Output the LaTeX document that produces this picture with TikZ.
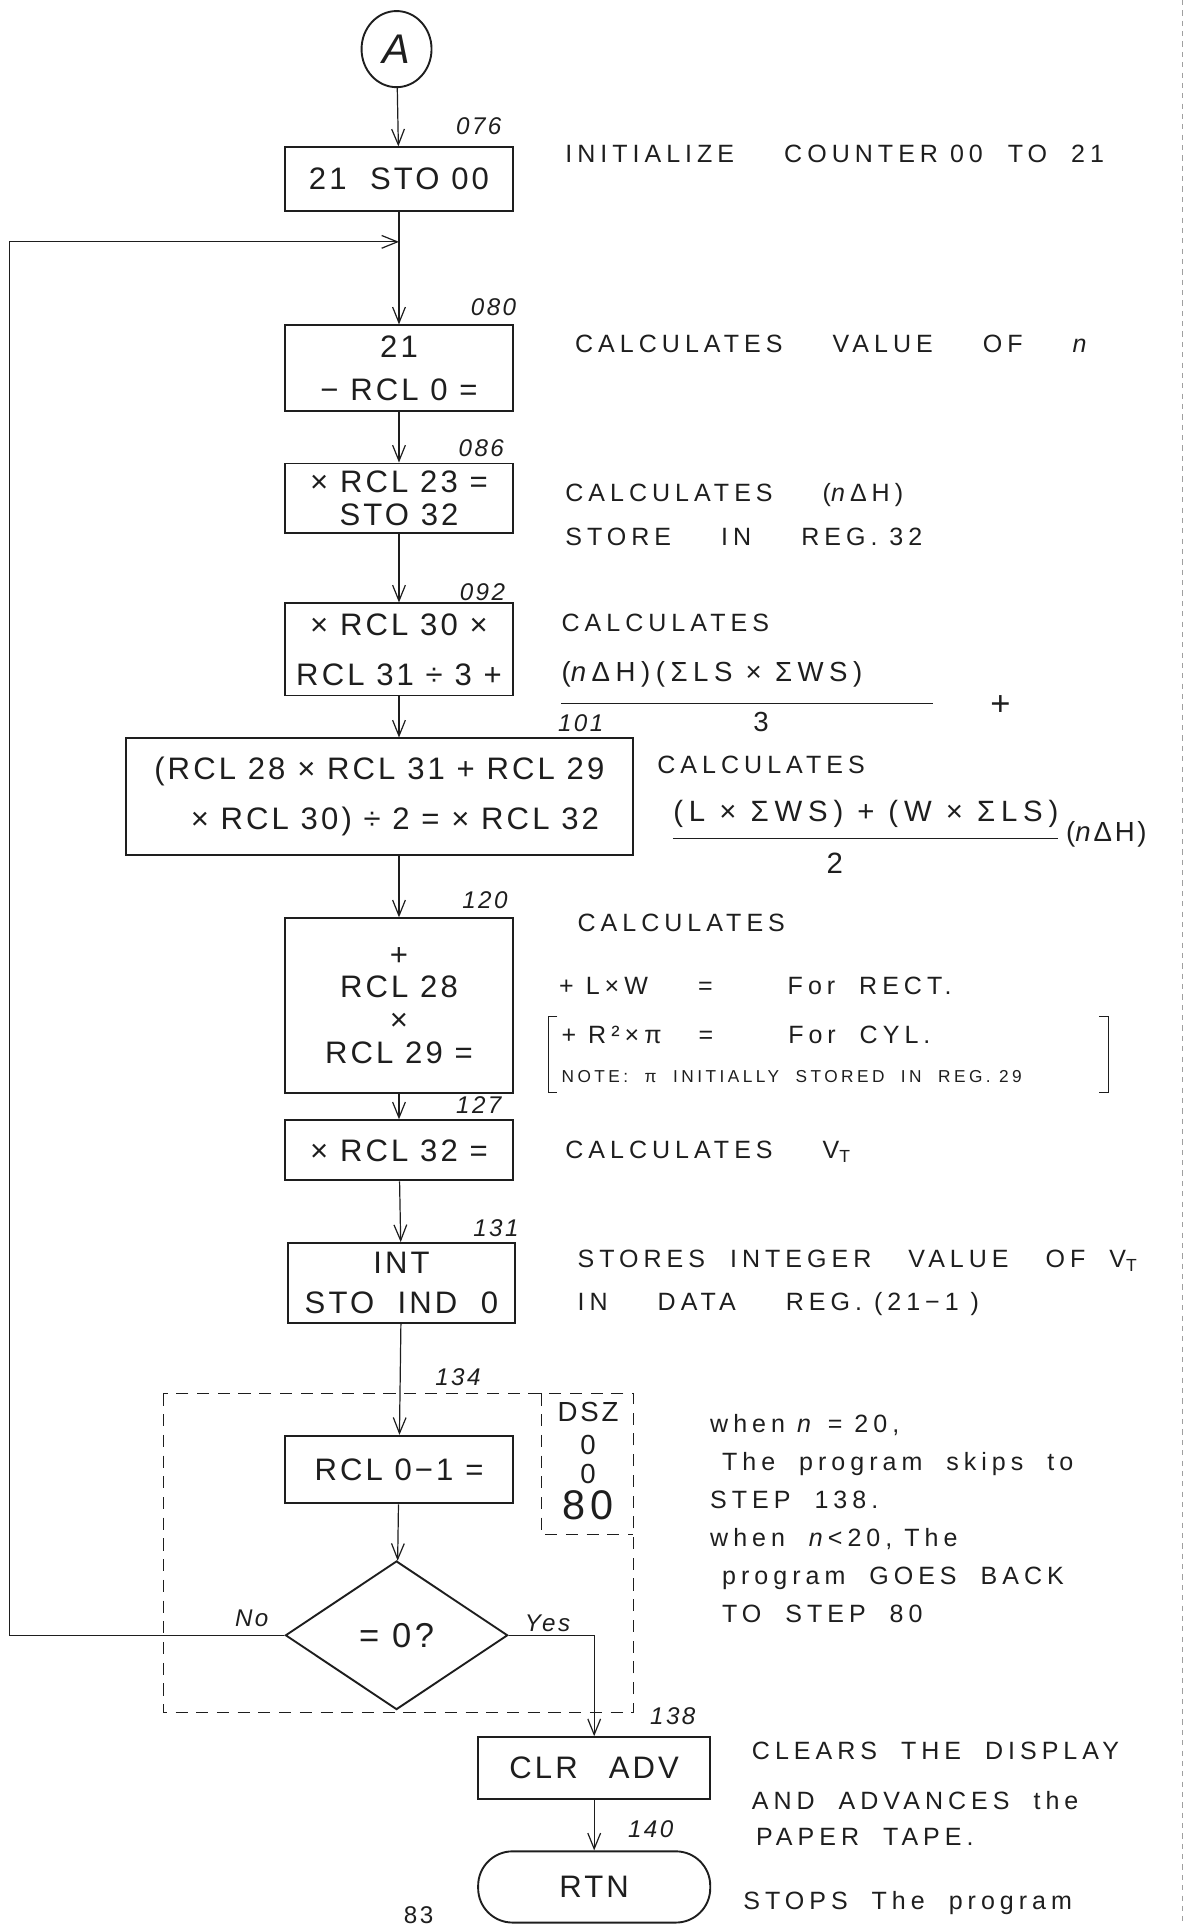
\documentclass[tikz,border=0pt]{standalone}
\usepackage{fontspec}
\usepackage{tikz}
\usetikzlibrary{arrows.meta,shapes.geometric}
\setmainfont{Liberation Sans}
\newfontfamily\handfont[LetterSpace=10]{Liberation Sans}
\newfontfamily\widehand[LetterSpace=20]{Liberation Sans}
\definecolor{PencilInk}{HTML}{1E1E1E}
\definecolor{PageEdge}{HTML}{A0A0A0}

\begin{document}
\begin{tikzpicture}[x=0.025cm,y=-0.025cm,PencilInk,
  >={Straight Barb[length=3.2mm,width=2.6mm]},line width=0.7pt,
  stepbox/.style={draw,line width=1.1pt,inner sep=0pt,align=center,
    minimum width=4.625cm,font=\fontsize{18}{23}\handfont},
  steplabel/.style={inner sep=0pt,font=\fontsize{14}{16}\handfont\itshape},
  remark/.style={anchor=west,inner sep=0pt,font=\fontsize{14.5}{17}\widehand}]
  \useasboundingbox (0,0) rectangle (967,1568);
  \draw[PageEdge,line width=0.4pt,dashed] (963,0) -- (963,1568);

  \node[draw,line width=1.1pt,ellipse,inner sep=0pt,minimum width=1.425cm,
    minimum height=1.55cm,font=\fontsize{24}{24}\handfont\itshape] (conA) at (323,40) {A};
  \node[stepbox,minimum height=1.3cm] (init) at (325,146) {21\ \ STO 00};
  \node[stepbox,minimum height=1.75cm] (count) at (325,300) {21\\[2pt]− RCL 0 =};
  \node[stepbox,minimum height=1.425cm] (ndh) at (325,406) {× RCL 23 =\\[-4pt]STO 32};
  \node[stepbox,minimum height=1.875cm] (sides) at (325,529) {× RCL 30 ×\\[6pt]RCL 31 ÷ 3 +};
  \node[stepbox,minimum width=10.325cm,minimum height=2.375cm] (ends) at (309,649)
    {(RCL 28 × RCL 31 + RCL 29\\[6pt]\quad × RCL 30) ÷ 2 = × RCL 32};
  \node[stepbox,minimum height=3.55cm] (area) at (325,819) {+\\[-4pt]RCL 28\\[-4pt]×\\[-4pt]RCL 29 =};
  \node[stepbox,minimum height=1.225cm] (vol) at (325,937) {× RCL 32 =};
  \node[stepbox,minimum height=1.625cm] (store) at (327,1045) {INT\\STO\ \ IND\ \ 0};
  \node[stepbox,minimum height=1.375cm] (decr) at (325,1197) {RCL 0−1 =};
  \node[draw,line width=1.1pt,diamond,inner sep=0pt,minimum width=4.525cm,
    minimum height=3.025cm,font=\fontsize{20}{20}\handfont] (test) at (323,1332) {= 0?};
  \node[stepbox,minimum width=4.725cm,minimum height=1.25cm] (clr) at (484,1440) {CLR\quad ADV};
  \node[stepbox,minimum width=4.725cm,minimum height=1.45cm,rounded corners=0.7cm] (rtn) at (484,1537) {RTN};

  \node[steplabel] (s076) at (390,103) {076};
  \node[steplabel] (s080) at (402,250) {080};
  \node[steplabel] (s086) at (392,365) {086};
  \node[steplabel] (s092) at (393,482) {092};
  \node[steplabel] (s101) at (473,589) {101};
  \node[steplabel] (s120) at (395,733) {120};
  \node[steplabel] (s127) at (390,900) {127};
  \node[steplabel] (s131) at (404,1000) {131};
  \node[steplabel] (s134) at (373,1122) {134};
  \node[steplabel] (s138) at (548,1398) {138};
  \node[steplabel] (s140) at (530,1490) {140};
  \node[steplabel] (nolab) at (205,1318) {No};
  \node[steplabel] (yeslab) at (446,1322) {Yes};

  \draw[->] (conA) -- (init);
  \draw[->] (init) -- (count);
  \draw[->] (count) -- (ndh);
  \draw[->] (ndh) -- (sides);
  \draw[->] (sides.south) -- (sides.south |- ends.north);
  \draw[->] (area.north |- ends.south) -- (area);
  \draw[->] (area) -- (vol);
  \draw[->] (vol) -- (store);
  \draw[->] (store) -- (decr);
  \draw[->] (decr) -- (test);
  \coordinate (loopcorner) at (8,197);
  \draw[->] (test.west) -| (loopcorner) -- (loopcorner -| init.south);
  \draw[->] (test.east) -| (clr.north);
  \draw[->] (clr) -- (rtn);

  \draw[dashed,line width=0.9pt,dash pattern=on 7pt off 5pt] (133,1135) rectangle (516,1395);
  \draw[dashed,line width=0.9pt,dash pattern=on 7pt off 5pt] (441,1135) |- (516,1250);
  \node[inner sep=0pt,align=center,font=\fontsize{16}{16}\handfont] (dsz) at (479,1190)
    {DSZ\\[3pt]0\\[1pt]0\\[3pt]{\fontsize{24}{24}\selectfont 80}};

  \node[remark] (r076) at (460,125) {INITIALIZE\qquad COUNTER 00\quad TO\ \ 21};
  \node[remark] (r080) at (468,280) {CALCULATES\qquad VALUE\qquad OF\qquad \textit{n}};
  \node[remark] (r086a) at (460,403) {CALCULATES\qquad (\textit{n}ΔH)};
  \node[remark] (r086b) at (460,437) {STORE\qquad IN\qquad REG. 32};
  \node[remark] (r092) at (457,507) {CALCULATES};
  \node[remark,font=\fontsize{16}{17}\widehand] (r092num) at (457,549) {(\textit{n}ΔH)(ΣLS × ΣWS)};
  \draw (457,573) -- (760,573);
  \node[inner sep=0pt,font=\fontsize{16}{17}\widehand] (r092den) at (620,588) {3};
  \node[inner sep=0pt,font=\fontsize{20}{20}\widehand] (r092plus) at (815,575) {+};
  \node[remark] (r101) at (535,623) {CALCULATES};
  \node[remark,font=\fontsize{17}{18}\widehand] (r101num) at (548,663) {(L × ΣWS) + (W × ΣLS)};
  \draw (548,683) -- (862,683);
  \node[inner sep=0pt,font=\fontsize{17}{18}\widehand] (r101den) at (680,703) {2};
  \node[remark,font=\fontsize{16}{17}\handfont] (r101fac) at (868,680) {(\textit{n}ΔH)};
  \node[remark] (r120) at (470,752) {CALCULATES};
  \node[remark] (r120rect) at (455,803) {+ L×W\qquad =\qquad\quad For\ \ RECT.};
  \node[remark] (r120cyl) at (457,843) {+ R²×π\quad\ =\qquad\quad For\ \ CYL.};
  \node[remark,font=\fontsize{10}{12}\widehand] (r120note) at (457,877) {NOTE:\ \ π\ \ INITIALLY\ \ STORED\ \ IN\ \ REG. 29};
  \draw (454,828) -- (447,828) -- (447,890) -- (454,890);
  \draw (895,828) -- (903,828) -- (903,890) -- (895,890);
  \node[remark] (r127) at (460,938) {CALCULATES\qquad V\textsubscript{T}};
  \node[remark] (r131a) at (470,1027) {STORES\quad INTEGER\quad\ VALUE\quad\ OF\ \ V\textsubscript{T}};
  \node[remark] (r131b) at (470,1062) {IN\qquad DATA\qquad REG. (21−1 )};
  \node[remark,align=left,font=\fontsize{14.5}{22}\widehand] (r134) at (578,1237)
    {when \textit{n} = 20,\\\ The\ \ program\ \ skips\ \ to\\STEP\ \ 138.\\when\ \ \textit{n}<20, The\\\ program\ \ GOES\ \ BACK\\\ TO\ \ STEP\ \ 80};
  \node[remark,align=left] (r138) at (612,1461)
    {CLEARS\ \ THE\ \ DISPLAY\\[12pt]AND\ \ ADVANCES\ \ the\\[4pt]\,PAPER\ \ TAPE.};
  \node[remark] (r140) at (605,1550) {STOPS\ \ The\ \ program};
  \node[inner sep=0pt,font=\fontsize{14}{16}\handfont] (pageno) at (341,1560) {83};
\end{tikzpicture}
\end{document}
